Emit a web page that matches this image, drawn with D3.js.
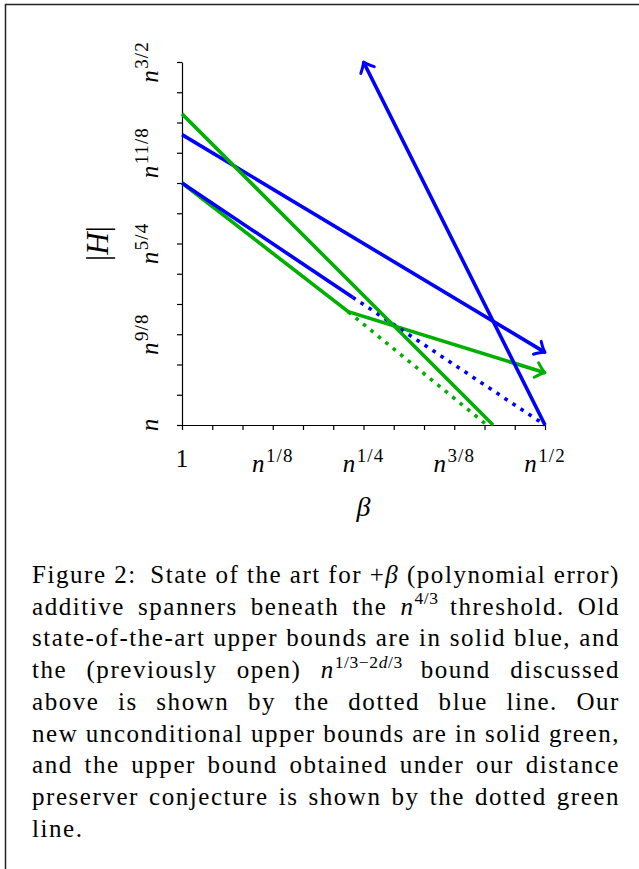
<!DOCTYPE html>
<html><head><meta charset="utf-8">
<script src="https://cdn.jsdelivr.net/npm/d3@7"></script>
<style>body{margin:0;background:#fff} svg{display:block}</style>
</head><body>
<script>
// ---- data (exponents of n) ----
const xTickValues = [0,1/24,2/24,3/24,4/24,5/24,6/24,7/24,8/24,9/24,10/24,11/24,12/24];
const yTickValues = [1,25/24,26/24,27/24,28/24,29/24,30/24,31/24,32/24,33/24,34/24,35/24,36/24];
const xLabelValues = [0, 1/8, 1/4, 3/8, 1/2];
const xLabelText = ["1", "$n^{1/8}$", "$n^{1/4}$", "$n^{3/8}$", "$n^{1/2}$"];
const yLabelValues = [1, 9/8, 5/4, 11/8, 3/2];
const yLabelText = ["$n$", "$n^{9/8}$", "$n^{5/4}$", "$n^{11/8}$", "$n^{3/2}$"];

const oldBoundA = [[0, 1.4], [0.5, 1.1]];
const oldBoundB = [[0.5, 1.0], [0.25, 1.5]];
const oldBoundC = [[0, 4/3], [0.235, 1.176]];
const openBound = [[0.235, 1.176], [0.5, 1.0]];
const newBoundA = [[0, 4/3], [0.229, 1.156], [0.5, 1.072]];
const newBoundB = [[0, 10/7], [3/7, 1.0]];
const conjBound = [[0.229, 1.156], [0.42, 1.0]];

const captionLines = [
  "Figure 2:| State of the art for $+β$ (polynomial error)",
  "additive spanners beneath the $n^{4/3}$ threshold. Old",
  "state-of-the-art upper bounds are in solid blue, and",
  "the (previously open) $n^{1/3−2d/3}$ bound discussed",
  "above is shown by the dotted blue line. Our",
  "new unconditional upper bounds are in solid green,",
  "and the upper bound obtained under our distance",
  "preserver conjecture is shown by the dotted green",
  "line."
];

// ---- setup ----
const W = 639, H = 869;
const BLUE = "#0000ff", GREEN = "#00b000";
const SERIF = "'Liberation Serif', 'Times New Roman', serif";
const svg = d3.select("body").append("svg").attr("width", W).attr("height", H);

svg.append("path").attr("d", `M5.5,${H} V4.5 H${W}`).attr("fill","none").attr("stroke","#222").attr("stroke-width",1.5);

const x = d3.scaleLinear().domain([0, 0.5]).range([182, 545]);
const y = d3.scaleLinear().domain([1, 1.5]).range([425, 62]);

function parseMath(s) {
  const runs = [];
  let i = 0;
  while (i < s.length) {
    const c = s[i];
    if (c === '^') {
      let j = s.indexOf('}', i);
      const inner = s.slice(i + 2, j);
      for (const ch of inner) runs.push({t: ch, it: /[a-zA-Zβ]/.test(ch), sup: true});
      i = j + 1;
    } else {
      runs.push({t: c, it: /[a-zA-Zβ]/.test(c), sup: false});
      i++;
    }
  }
  const out = [];
  for (const r of runs) {
    const last = out[out.length - 1];
    if (last && last.it === r.it && last.sup === r.sup) last.t += r.t; else out.push({...r});
  }
  return out;
}
function parseWord(w) {
  const runs = [];
  const parts = w.split('$');
  parts.forEach((p, k) => {
    if (!p) return;
    if (k % 2 === 1) runs.push(...parseMath(p));
    else runs.push({t: p, it: false, sup: false});
  });
  return runs;
}
function renderRuns(textSel, runs, fs, supFs, supShift, supLs) {
  let cur = 0;
  runs.forEach((r, k) => {
    const target = r.sup ? -supShift : 0;
    const ts = textSel.append("tspan").text(r.t)
      .attr("font-style", r.it ? "italic" : "normal")
      .attr("font-size", r.sup ? supFs : fs);
    if (r.sup) ts.attr("letter-spacing", supLs || 0);
    if (!r.sup && runs[k+1] && runs[k+1].sup) ts.attr("letter-spacing", 0);
    if (r.sup && k > 0 && !runs[k-1].sup) ts.attr("dx", 1.5);
    if (target !== cur) { ts.attr("dy", target - cur); cur = target; }
  });
}

// axes
const xAxis = d3.axisBottom(x).tickValues(xTickValues).tickSize(5).tickSizeOuter(0).tickFormat("");
const yAxis = d3.axisLeft(y).tickValues(yTickValues).tickSize(5).tickSizeOuter(0).tickFormat("");
const gx = svg.append("g").attr("transform", `translate(0,${y(1)})`).call(xAxis);
const gy = svg.append("g").attr("transform", `translate(${x(0)},0)`).call(yAxis);
[gx, gy].forEach(g => g.selectAll("path,line").attr("stroke", "#000").attr("stroke-width", 1.2));

// tick labels
const TFS = 25, TSUP = 19, TSH = 10.5;
xLabelValues.forEach((v, i) => {
  const t = svg.append("text").attr("x", x(v)).attr("y", i === 0 ? 467 : 472)
    .attr("text-anchor", "middle").attr("font-family", SERIF).attr("font-size", TFS);
  renderRuns(t, parseWord(xLabelText[i]), TFS, TSUP, TSH, 1);
});
yLabelValues.forEach((v, i) => {
  const t = svg.append("text").attr("transform", `translate(158,${y(v)}) rotate(-90)`)
    .attr("text-anchor", "middle").attr("font-family", SERIF).attr("font-size", TFS);
  renderRuns(t, parseWord(yLabelText[i]), TFS, TSUP, TSH, 1);
});
svg.append("text").attr("x", x(0.25)).attr("y", 516).attr("text-anchor","middle")
  .attr("font-family", SERIF).attr("font-size", 28).attr("font-style","italic").text("β");
svg.append("text").attr("transform", `translate(108,${y(1.25)}) rotate(-90)`).attr("text-anchor","middle")
  .attr("font-family", SERIF).attr("font-size", 31)
  .call(t => { t.append("tspan").text("|"); t.append("tspan").attr("font-style","italic").text("H"); t.append("tspan").text("|"); });

// arrow markers
const defs = svg.append("defs");
[["arrB", BLUE], ["arrG", GREEN]].forEach(([id, col]) => {
  defs.append("marker").attr("id", id).attr("markerUnits", "userSpaceOnUse")
    .attr("viewBox", "-14 -10 18 20").attr("refX", 0).attr("refY", 0)
    .attr("markerWidth", 18).attr("markerHeight", 20).attr("orient", "auto")
    .append("path").attr("d", "M-9,-7.5 Q-3,-1.5 0,0 Q-3,1.5 -9,7.5")
    .attr("fill", "none").attr("stroke", col).attr("stroke-width", 3).attr("stroke-linecap","round").attr("stroke-linejoin","round");
});

const line = d3.line().x(d => x(d[0])).y(d => y(d[1]));
function draw(data, col, opts = {}) {
  const p = svg.append("path").attr("d", line(data)).attr("fill", "none")
    .attr("stroke", col).attr("stroke-width", 3.6).attr("stroke-linejoin", "miter");
  if (opts.dots) p.attr("stroke-dasharray", "3.6 6");
  if (opts.arrow) p.attr("marker-end", `url(#${opts.arrow})`);
  return p;
}
draw(conjBound, GREEN, {dots: true});
draw(newBoundA, GREEN, {arrow: "arrG"});
draw(openBound, BLUE, {dots: true});
draw(oldBoundA, BLUE, {arrow: "arrB"});
draw(oldBoundB, BLUE, {arrow: "arrB"});
draw(oldBoundC, BLUE);
draw(newBoundB, GREEN);

// caption
const CFS = 25, LEFT = 32, RIGHT = 620, BASE0 = 583, LEAD = 31.7, NGAP = 7.5;
const capG = svg.append("g").attr("font-family", SERIF).attr("font-size", CFS).attr("fill", "#000");
const built = captionLines.map((ln, li) => {
  return ln.split(" ").map(w => {
    let extra = 0;
    if (w.endsWith("|")) { w = w.slice(0, -1); extra = 6; }
    const t = capG.append("text").attr("y", BASE0 + li * LEAD);
    const runs = parseWord(w);
    renderRuns(t, runs, CFS, CFS * 0.7, CFS * 0.42, 0.6);
    return {t, extra, nch: d3.sum(runs, r => r.t.length)};
  });
});
let ls = Infinity;
built.forEach((items, li) => {
  if (li === 4 || li === built.length - 1) return;
  const total = d3.sum(items, d => d.t.node().getComputedTextLength() + d.extra);
  const nch = d3.sum(items, d => d.nch);
  ls = Math.min(ls, (RIGHT - LEFT - total - NGAP * (items.length - 1)) / nch);
});
ls = Math.max(0, ls);
capG.selectAll("text").attr("letter-spacing", ls);
built.forEach((items, li) => {
  items.forEach(d => d.w = d.t.node().getComputedTextLength());
  const total = d3.sum(items, d => d.w + d.extra);
  const last = li === built.length - 1;
  const gap = last ? NGAP : (RIGHT - LEFT - total) / (items.length - 1);
  let cx = LEFT;
  items.forEach(it => { it.t.attr("x", cx); cx += it.w + it.extra + gap; });
});
</script>
</body></html>
